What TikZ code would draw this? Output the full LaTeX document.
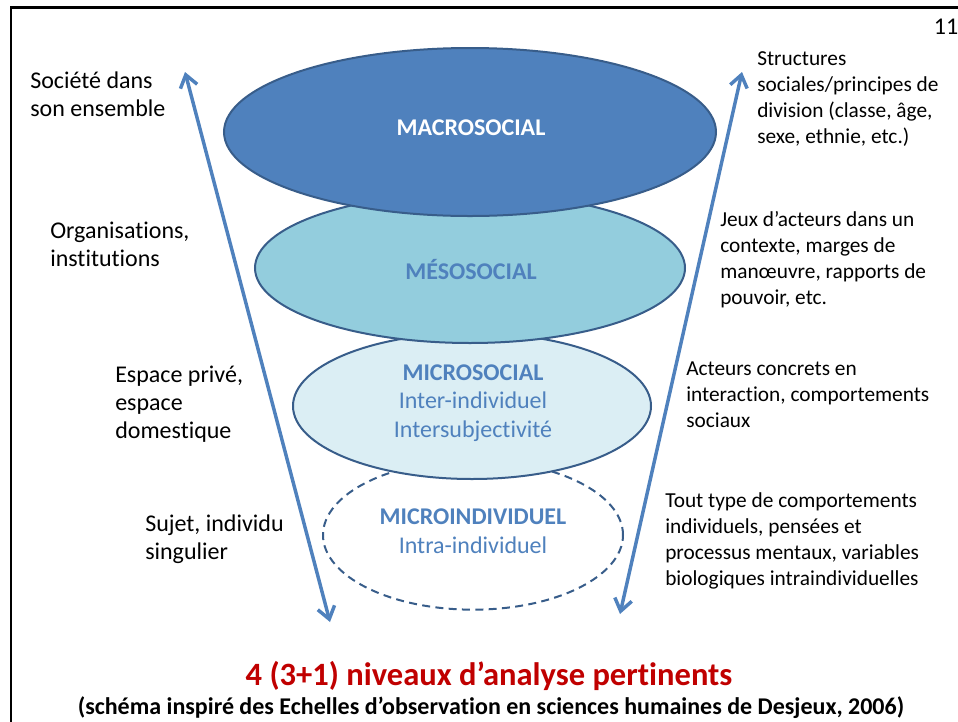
\documentclass[tikz,border=0pt]{standalone}
\usepackage{fontspec}
\setmainfont{Carlito}[Ligatures=NoCommon]
\usetikzlibrary{arrows.meta,shapes.geometric}
\definecolor{macrofill}{HTML}{4F81BD}
\definecolor{mesofill}{HTML}{93CDDD}
\definecolor{microfill}{HTML}{DBEEF4}
\definecolor{edgeblue}{HTML}{385D8A}
\definecolor{txtblue}{HTML}{4F81BD}
\definecolor{titlered}{HTML}{C00000}
\tikzset{
  lvl/.style={ellipse, draw=edgeblue, line width=1.5pt, inner sep=0pt},
  lefttxt/.style={anchor=west, align=left, inner sep=0pt, font=\fontsize{18}{21}\selectfont},
  righttxt/.style={anchor=west, align=left, inner sep=0pt, font=\fontsize{16}{19.5}\selectfont},
  lvltxt/.style={align=center, inner sep=0pt, text=txtblue, font=\fontsize{18}{21.5}\selectfont},
  scalearrow/.style={draw=txtblue, line width=2.6pt, {Straight Barb[length=9pt,width=13pt]}-{Straight Barb[length=9pt,width=13pt]}}
}
\begin{document}
\begin{tikzpicture}[x=0.75pt,y=-0.75pt]
\useasboundingbox (0,0) rectangle (958,722);
% frame
\draw[line width=1.6pt] (11,740) -- (11,7.5) -- (970,7.5);
\node[anchor=center, inner sep=0pt, font=\fontsize{18}{21}\selectfont] (pagenum) at (946,27) {11};
% ellipses (bottom first)
\node[lvl, dashed, dash pattern=on 6pt off 4pt, fill=white, minimum width=225pt, minimum height=112pt] (microind) at (473,535) {};
\node[lvl, fill=microfill, minimum width=268.5pt, minimum height=109.5pt] (micro) at (472,406) {};
\node[lvl, fill=mesofill, minimum width=322.5pt, minimum height=112.5pt] (meso) at (470,268) {};
\node[lvl, fill=macrofill, minimum width=369pt, minimum height=126pt] (macro) at (470,132) {};
% labels in ellipses
\node[lvltxt, text=white] (macrol) at (471,128) {\textbf{MACROSOCIAL}};
\node[lvltxt] (mesol) at (471,269) {\textbf{MÉSOSOCIAL}};
\node[lvltxt] (microl) at (473,403) {\textbf{MICROSOCIAL}\\Inter-individuel\\Intersubjectivité};
\node[lvltxt] (microindl) at (473,531) {\textbf{MICROINDIVIDUEL}\\Intra-individuel};
% arrows
\coordinate (lt) at (185,72);
\coordinate (lb) at (330,622);
\coordinate (rt) at (742,72);
\coordinate (rb) at (620,614);
\draw[scalearrow] (lt) -- (lb);
\draw[scalearrow] (rt) -- (rb);
% left texts
\node[lefttxt] (l1) at (30,94) {Société dans\\son ensemble};
\node[lefttxt] (l2) at (50,244) {Organisations,\\institutions};
\node[lefttxt] (l3) at (115,404) {Espace privé,\\espace\\domestique};
\node[lefttxt] (l4) at (145,539) {Sujet, individu\\singulier};
% right texts
\node[righttxt] (r1) at (757,99) {Structures\\sociales/principes de\\division (classe, âge,\\sexe, ethnie, etc.)};
\node[righttxt] (r2) at (720,260) {Jeux d’acteurs dans un\\contexte, marges de\\manœuvre, rapports de\\pouvoir, etc.};
\node[righttxt] (r3) at (686,395) {Acteurs concrets en\\interaction, comportements\\sociaux};
\node[righttxt] (r4) at (665,541) {Tout type de comportements\\individuels, pensées et\\processus mentaux, variables\\biologiques intraindividuelles};
% bottom titles
\node[inner sep=0pt, text=titlered, font=\fontsize{24.4}{28}\selectfont\bfseries] (title) at (489,676) {4 (3+1) niveaux d’analyse pertinents};
\node[inner sep=0pt, font=\fontsize{18}{21}\selectfont\bfseries] (subtitle) at (491,708) {(schéma inspiré des Echelles d’observation en sciences humaines de Desjeux, 2006)};
\end{tikzpicture}
\end{document}
